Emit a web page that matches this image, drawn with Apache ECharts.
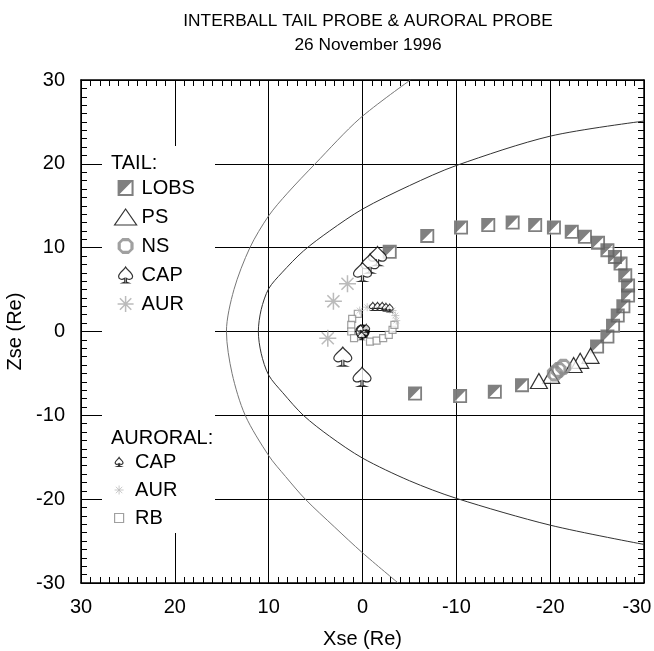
<!DOCTYPE html>
<html>
<head>
<meta charset="utf-8">
<script src="https://cdn.jsdelivr.net/npm/echarts@6/dist/echarts.min.js"></script>
<style>
  html, body { margin: 0; padding: 0; background: #fff; }
  #main { width: 654px; height: 651px; }
</style>
</head>
<body>
<div id="main"></div>
<script>
// ---- data (Xse, Zse in Re) ----
const xTickValues = [30, 20, 10, 0, -10, -20, -30];

// TAIL probe
const lobsPts = [
  [-2.9, 9.5], [-6.9, 11.4], [-10.5, 12.4], [-13.4, 12.7], [-16, 13], [-18.4, 12.7],
  [-20.4, 12.4], [-22.3, 11.9], [-23.7, 11.3], [-25.1, 10.6], [-26.1, 9.7], [-26.9, 8.9],
  [-27.5, 8.1], [-28, 6.7], [-28.3, 5.5], [-28.3, 4.3], [-27.8, 3.0], [-27.2, 1.9],
  [-26.7, 0.7], [-26.1, -0.6], [-25, -1.8],
  [-17, -6.4], [-14.1, -7.2], [-10.4, -7.7], [-5.6, -7.4]
];
const psPts = [[-24.3, -2.9], [-23.2, -3.5], [-22.5, -4.0], [-20.1, -5.3], [-18.8, -5.9]];
const nsPts = [[-21.4, -4.2], [-20.9, -4.6], [-20.5, -5.0]];
const tailCapPts = [[-1.6, 9.0], [-0.8, 8.1], [0, 7.1], [2.1, -3.0], [0.05, -5.4]];
const tailAurPts = [[1.6, 5.7], [3.1, 3.6], [3.7, -0.8]];

// AURORAL probe
const aurCapPts = [[0.2, 0.3], [-0.2, -0.2], [-0.4, 0.4], [0.1, -0.5],
  [-1.1, 3.0], [-1.6, 3.0], [-2.1, 3.0], [-2.5, 2.9], [-2.9, 2.8]];
const aurAurPts = [[0.3, 2.5], [-0.5, 2.9], [-3.2, 2.5], [-3.5, 1.9], [-3.6, 1.3]];
const rbPts = [[0.5, 2.1], [1.1, 1.5], [1.2, 0.8], [1.2, 0], [0.9, -0.8], [-0.8, -1.2],
  [-1.5, -1.1], [-2.2, -0.8], [-2.8, -0.4], [-3.2, 0.2], [-3.4, 0.8]];
const earthPt = [[0, 0]];

// boundaries
const bowShock = [[-5.1, 30], [0.3, 25.4], [5.05, 20], [8, 16.5], [10, 13.8], [12, 10], [13.7, 5],
  [14.5, 0], [13.9, -5], [12.5, -10], [10, -14.8], [8.2, -17.3], [6.1, -20], [3, -23.3], [0, -26.4], [-3.8, -30]];
const magnetopause = [[-30, 25.1], [-20, 23.3], [-10, 19.8], [-5, 17.4], [0, 14.6], [3.5, 12], [6.3, 9.6],
  [8.6, 7], [10, 5.1], [10.8, 2.6], [11.1, 0], [10.8, -2.6], [10, -5.2], [8.5, -7.3], [6.3, -10],
  [3.5, -12.5], [0, -15.1], [-5, -17.8], [-10, -19.9], [-20, -23.1], [-30, -25.4]];

// ---- symbols ----
const FONT = '"Liberation Sans", Arial, sans-serif';
const lobsSym = 'path://M0,0 L10,0 L10,10 L0,10 Z M1.3,1.3 L1.3,8.7 L8.7,8.7 L8.7,1.3 Z M1.3,1.3 L8.7,1.3 L1.3,8.7 Z';
const squareSym = 'path://M0,0 L10,0 L10,10 L0,10 Z';
const octSym = 'path://M6,0 L14,0 L20,6 L20,14 L14,20 L6,20 L0,14 L0,6 Z M6.6,4 L4,6.6 L4,13.4 L6.6,16 L13.4,16 L16,13.4 L16,6.6 L13.4,4 Z';
const spadeSym = 'path://M10,0 C8,4 1.5,7 1.5,11.5 C1.5,14.5 5,16 8.3,14.2 L9,13.8 L9,18.5 L6.5,19.5 L13.5,19.5 L11,18.5 L11,13.8 L11.7,14.2 C15,16 18.5,14.5 18.5,11.5 C18.5,7 12,4 10,0 Z';
const starSym = 'path://M10,0 L10,20 M0,10 L20,10 M2.9,2.9 L17.1,17.1 M17.1,2.9 L2.9,17.1';
const halfSym = 'path://M0,0 A10,10 0 0,1 0,20 Z';

const chart = echarts.init(document.getElementById('main'));

const frameAxis = {
  type: 'value', min: -30, max: 30, interval: 10,
  axisLine: { show: true, onZero: false, lineStyle: { color: '#000', width: 1.5 } },
  axisTick: { show: true, inside: true, length: 7, lineStyle: { color: '#000' } },
  minorTick: { show: true, splitNumber: 10, length: 6, lineStyle: { color: '#000' } },
  splitLine: { show: false },
  axisLabel: { show: false }
};
const labelStyle = { color: '#000', fontSize: 20, fontFamily: FONT };

const option = {
  backgroundColor: '#fff',
  animation: false,
  grid: { left: 81, right: 10, top: 80, bottom: 68, outerBoundsMode: 'none', containLabel: false },
  xAxis: [
    Object.assign({}, frameAxis, {
      position: 'bottom', inverse: true,
      splitLine: { show: true, lineStyle: { color: '#000', width: 1 } },
      axisLabel: Object.assign({ show: true, margin: 14,
        // the last label sits a little inside the page edge, as in the original
        formatter: v => (xTickValues.indexOf(v) < 0 ? '' : (v === -30 ? '{edge|-30}' : String(v))),
        rich: { edge: { fontSize: 20, fontFamily: FONT, color: '#000', padding: [0, 14, 0, 0] } }
      }, labelStyle),
      name: 'Xse (Re)', nameLocation: 'middle', nameGap: 46,
      nameTextStyle: labelStyle
    }),
    Object.assign({}, frameAxis, { position: 'top', inverse: true })
  ],
  yAxis: [
    Object.assign({}, frameAxis, {
      position: 'left',
      splitLine: { show: true, lineStyle: { color: '#000', width: 1 } },
      axisLabel: Object.assign({ show: true, margin: 16 }, labelStyle),
      name: 'Zse (Re)', nameLocation: 'middle', nameGap: 50,
      nameTextStyle: labelStyle
    }),
    Object.assign({}, frameAxis, { position: 'right' })
  ],
  graphic: [
    { type: 'text', x: 368, y: 21, z: 10, style: { text: 'INTERBALL TAIL PROBE & AURORAL PROBE',
      fill: '#000', font: '17.3px ' + FONT, textAlign: 'center', textVerticalAlign: 'middle' } },
    { type: 'text', x: 368, y: 45, z: 10, style: { text: '26 November 1996',
      fill: '#000', font: '17.3px ' + FONT, textAlign: 'center', textVerticalAlign: 'middle' } },
    // white box behind the legend
    { type: 'rect', shape: { x: 102, y: 146, width: 113, height: 387 }, z: 1,
      style: { fill: '#fff' } },
    { type: 'text', x: 111, y: 163, z: 10, style: { text: 'TAIL:', fill: '#000',
      font: '20px ' + FONT, textVerticalAlign: 'middle' } },
    { type: 'text', x: 111, y: 438, z: 10, style: { text: 'AURORAL:', fill: '#000',
      font: '20px ' + FONT, textVerticalAlign: 'middle' } }
  ],
  legend: [
    {
      orient: 'vertical', left: 114, top: 178, padding: 0, z: 10,
      itemWidth: 22, itemHeight: 16, itemGap: 9, selectedMode: false,
      textStyle: { color: '#000', fontSize: 20, fontFamily: FONT, lineHeight: 20 },
      formatter: n => n.replace(/^[TA]-/, ''),
      data: [
        { name: 'T-LOBS', itemStyle: { color: '#606060' } },
        { name: 'T-PS', itemStyle: { color: '#fff', borderColor: '#000', borderWidth: 1.2 } },
        { name: 'T-NS', itemStyle: { color: '#888' } },
        { name: 'T-CAP', itemStyle: { color: '#fff', borderColor: '#000', borderWidth: 1.2 } },
        { name: 'T-AUR', itemStyle: { color: '#aaa', borderColor: '#aaa', borderWidth: 1.5 } }
      ]
    },
    {
      orient: 'vertical', left: 114, top: 452, padding: 0, z: 10,
      itemWidth: 22, itemHeight: 9, itemGap: 8, selectedMode: false,
      textStyle: { color: '#000', fontSize: 20, fontFamily: FONT, lineHeight: 20 },
      formatter: n => n.replace(/^[TA]-/, ''),
      data: [
        { name: 'A-CAP', itemStyle: { color: '#fff', borderColor: '#000', borderWidth: 1.2 } },
        { name: 'A-AUR', itemStyle: { color: '#bbb', borderColor: '#bbb', borderWidth: 1 } },
        { name: 'A-RB', itemStyle: { color: '#fff', borderColor: '#888', borderWidth: 1.2 } }
      ]
    }
  ],
  series: [
    { name: 'bow shock', type: 'line', data: bowShock, smooth: 0.3, symbol: 'none', silent: true,
      lineStyle: { color: '#777', width: 1 }, z: 1 },
    { name: 'magnetopause', type: 'line', data: magnetopause, smooth: 0.3, symbol: 'none', silent: true,
      lineStyle: { color: '#333', width: 1 }, z: 1 },
    { name: 'lobs-bg', type: 'scatter', data: lobsPts, symbol: 'rect', symbolSize: 14, silent: true,
      itemStyle: { color: '#fff' } },
    { name: 'T-LOBS', type: 'scatter', data: lobsPts, symbol: lobsSym, symbolSize: 14,
      itemStyle: { color: '#606060' } },
    { name: 'T-PS', type: 'scatter', data: psPts, symbol: 'triangle', symbolSize: [17, 15],
      itemStyle: { color: '#fff', borderColor: '#000', borderWidth: 1.2 } },
    { name: 'T-NS', type: 'scatter', data: nsPts, symbol: octSym, symbolSize: 16,
      itemStyle: { color: '#888' } },
    { name: 'T-CAP', type: 'scatter', data: tailCapPts, symbol: spadeSym, symbolSize: [18, 19],
      itemStyle: { color: '#fff', borderColor: '#000', borderWidth: 1.2 } },
    { name: 'T-AUR', type: 'scatter', data: tailAurPts, symbol: starSym, symbolSize: 17,
      itemStyle: { color: '#aaa', borderColor: '#aaa', borderWidth: 1.5 } },
    { name: 'A-RB', type: 'scatter', data: rbPts, symbol: squareSym, symbolSize: 7,
      itemStyle: { color: '#fff', borderColor: '#888', borderWidth: 1.2 } },
    { name: 'A-AUR', type: 'scatter', data: aurAurPts, symbol: starSym, symbolSize: 8,
      itemStyle: { color: '#bbb', borderColor: '#bbb', borderWidth: 1 } },
    { name: 'Earth', type: 'scatter', data: earthPt, symbol: 'circle', symbolSize: 13, silent: true,
      itemStyle: { color: '#fff', borderColor: '#000', borderWidth: 1.5 } },
    { name: 'Earth-night', type: 'scatter', data: earthPt, symbol: halfSym, symbolSize: [6.5, 13],
      symbolOffset: [3.25, 0], silent: true, itemStyle: { color: '#000' } },
    { name: 'A-CAP', type: 'scatter', data: aurCapPts, symbol: spadeSym, symbolSize: [7, 8],
      itemStyle: { color: '#fff', borderColor: '#000', borderWidth: 1 } }
  ]
};

chart.setOption(option);
</script>
</body>
</html>
